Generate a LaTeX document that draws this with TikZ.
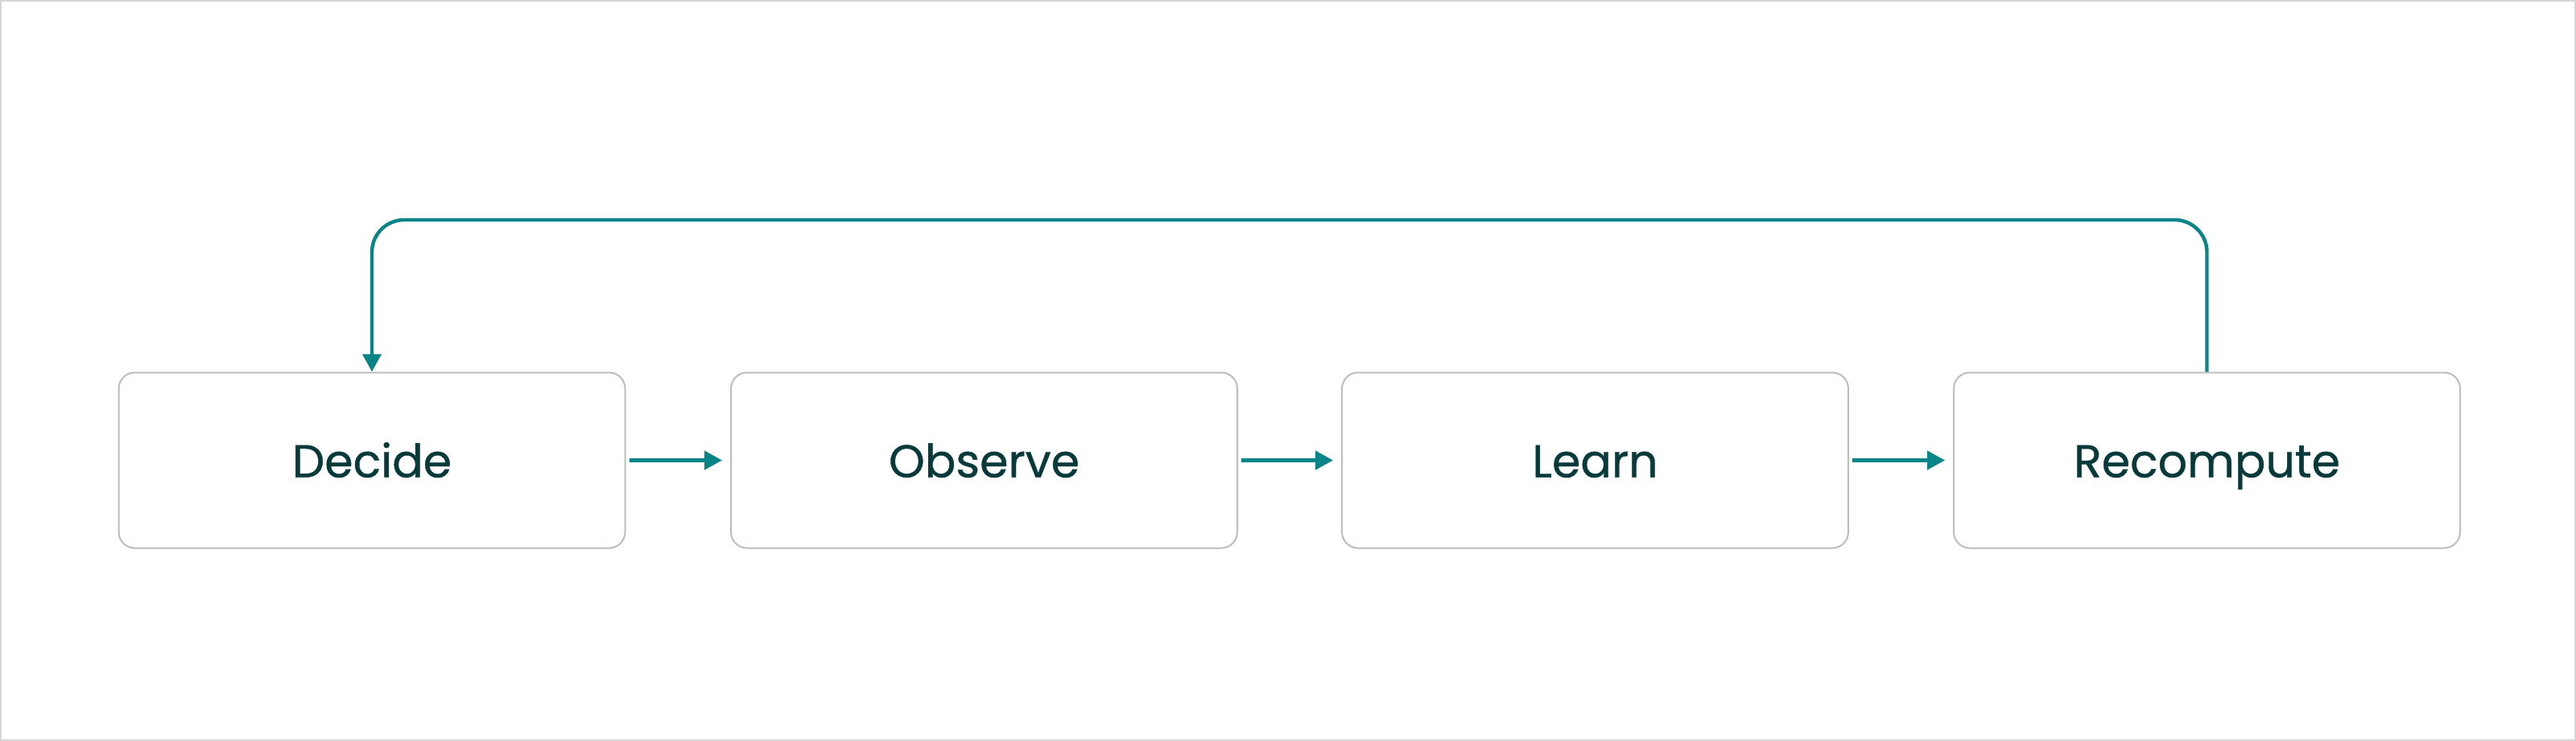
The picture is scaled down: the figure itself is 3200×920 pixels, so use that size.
\documentclass[tikz,border=0pt]{standalone}
\usepackage{fontspec}
\setmainfont{Poppins}[FakeBold=0.7]
\usetikzlibrary{arrows.meta}
\definecolor{teal1}{HTML}{0A8587}
\definecolor{boxgray}{HTML}{BDBDBD}
\definecolor{framegray}{HTML}{D6D6D6}
\definecolor{txt}{HTML}{083A3B}
\tikzset{
  stepbox/.style={draw=boxgray, line width=1pt, rounded corners=10pt, fill=white,
    minimum width=314.5pt, minimum height=109pt, inner sep=0pt,
    text height=21pt, text depth=0pt,
    font=\fontsize{28.5}{34}\selectfont, text=txt},
  flow/.style={draw=teal1, line width=2.2pt, -{Triangle[length=11pt,width=11.5pt]}},
}
\begin{document}
\begin{tikzpicture}[x=0.5pt,y=-0.5pt]
\useasboundingbox (0,0) rectangle (3200,920);
\draw[framegray, line width=1pt] (1,1) rectangle (3199,919);
\node[stepbox] (decide) at (462,571.5) {Decide};
\node[stepbox] (observe) at (1222.5,571.5) {Observe};
\node[stepbox] (learn) at (1981.5,571.5) {Learn};
\node[stepbox] (recompute) at (2741.5,571.5) {Recompute};
\draw[flow, shorten <=2pt, shorten >=5pt] (decide) -- (observe);
\draw[flow, shorten <=2pt, shorten >=5pt] (observe) -- (learn);
\draw[flow, shorten <=2pt, shorten >=5pt] (learn) -- (recompute);
\draw[flow, rounded corners=20pt] (recompute.north) -- ++(0,-188.5) -| (decide.north);
\end{tikzpicture}
\end{document}
